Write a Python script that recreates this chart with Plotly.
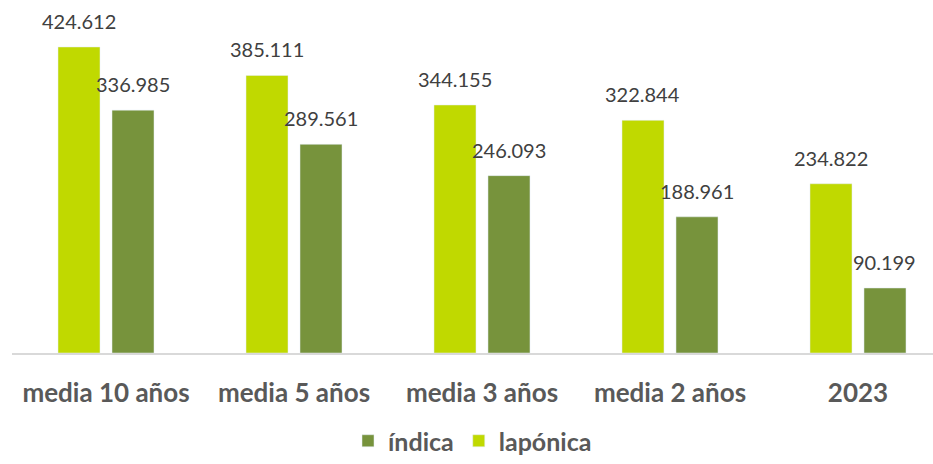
import plotly.graph_objects as go

categories = ["media 10 años", "media 5 años", "media 3 años", "media 2 años", "2023"]
laponica = [424.612, 385.111, 344.155, 322.844, 234.822]
indica = [336.985, 289.561, 246.093, 188.961, 90.199]

laponica_color = "#C0D900"
indica_color = "#77933C"

bar_w = 42 / 188
fmt = lambda v: f"{v:.3f}"

fig = go.Figure()
fig.add_trace(go.Bar(
    name="índica", x=categories, y=indica,
    marker_color=indica_color,
    width=bar_w, offset=6 / 188,
))
fig.add_trace(go.Bar(
    name="lapónica", x=categories, y=laponica,
    marker_color=laponica_color,
    width=bar_w, offset=-48 / 188,
))

# value labels above each bar (x given as category index)
for i, (lv, iv) in enumerate(zip(laponica, indica)):
    for v, dx in ((lv, -27), (iv, 27)):
        fig.add_annotation(
            x=i, y=v, text=fmt(v), showarrow=False,
            xshift=dx, yshift=12, yanchor="bottom",
            font=dict(size=20, color="#404040", family="Lato"),
        )

fig.update_layout(
    width=933, height=464,
    margin=dict(l=12, r=0, t=0, b=111),
    paper_bgcolor="white", plot_bgcolor="white",
    font=dict(family="Lato", color="#595959"),
    barmode="group",
    showlegend=True,
    legend=dict(
        orientation="h", x=0.5, xanchor="center",
        yref="container", y=-0.015, yanchor="bottom",
        font=dict(size=25, color="#595959", weight="bold"),
        traceorder="normal",
    ),
)
fig.update_xaxes(
    range=[-0.5, 4.399],
    showline=True, linecolor="#D9D9D9", linewidth=2,
    ticks="", showgrid=False,
    tickfont=dict(size=26, color="#595959", weight="bold"),
    ticklabelstandoff=16,
)
fig.update_yaxes(range=[0, 489.8], visible=False, showgrid=False)

fig.write_html("out.html", config={"displayModeBar": False},
               post_script="document.body.style.margin='0';")
